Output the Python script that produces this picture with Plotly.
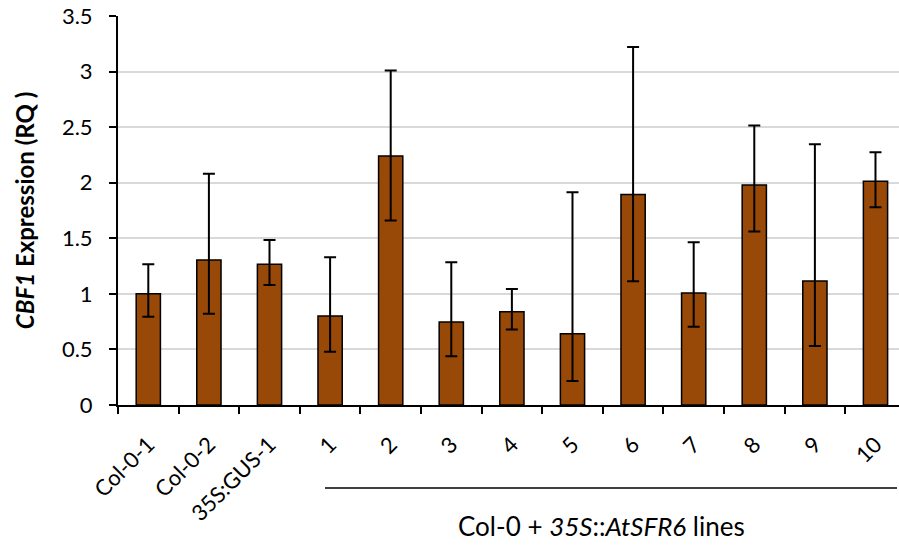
import plotly.graph_objects as go

# CBF1 relative expression per line, with asymmetric error bounds
lines = ["Col-0-1", "Col-0-2", "35S:GUS-1", "1", "2", "3", "4", "5",
         "6", "7", "8", "9", "10"]
rq = [1.00, 1.305, 1.266, 0.80, 2.24, 0.747, 0.84, 0.642,
      1.893, 1.008, 1.98, 1.116, 2.013]
err_high = [1.266, 2.08, 1.485, 1.33, 3.01, 1.284, 1.044, 1.914,
            3.22, 1.464, 2.514, 2.346, 2.274]
err_low = [0.795, 0.82, 1.08, 0.48, 1.66, 0.438, 0.68, 0.216,
           1.113, 0.705, 1.56, 0.531, 1.78]

plus = [h - v for h, v in zip(err_high, rq)]
minus = [v - l for l, v in zip(err_low, rq)]

FONT = "Lato"

fig = go.Figure(
    go.Bar(
        x=lines,
        y=rq,
        width=0.40,
        marker=dict(color="#984807", line=dict(color="black", width=1.5)),
        error_y=dict(
            type="data",
            symmetric=False,
            array=plus,
            arrayminus=minus,
            color="black",
            thickness=2,
            width=6,
        ),
    )
)

fig.update_layout(
    width=899,
    height=546,
    margin=dict(l=118, r=0, t=16, b=141),
    plot_bgcolor="white",
    paper_bgcolor="white",
    showlegend=False,
    font=dict(family=FONT, size=22, color="black"),
)

fig.update_xaxes(
    type="category",
    range=[-0.5, 12.388],
    tickangle=-45,
    tickson="boundaries",
    ticks="outside",
    ticklen=7,
    tickwidth=1.5,
    tickcolor="black",
    ticklabelstandoff=16,
    showline=True,
    linecolor="black",
    linewidth=2,
    showgrid=False,
    tickfont=dict(family=FONT, size=22),
)

fig.update_yaxes(
    range=[0, 3.5],
    tickvals=[0, 0.5, 1, 1.5, 2, 2.5, 3, 3.5],
    ticktext=["0", "0.5", "1", "1.5", "2", "2.5", "3", "3.5"],
    ticks="outside",
    ticklen=7,
    tickwidth=1.5,
    tickcolor="black",
    ticklabelstandoff=12,
    showline=True,
    linecolor="black",
    linewidth=2,
    showgrid=True,
    gridcolor="#d9d9d9",
    gridwidth=1.5,
    zeroline=False,
    tickfont=dict(family=FONT, size=22),
    title=dict(
        text="<b><i>CBF1</i> Expression (RQ )</b>",
        font=dict(family=FONT, size=24),
        standoff=20,
    ),
)

# Bracket line under the transgenic lines and its group label
fig.add_shape(
    type="line",
    xref="paper", yref="paper",
    x0=(325 - 118) / 781, x1=(897 - 118) / 781,
    y0=-(488 - 405) / 389, y1=-(488 - 405) / 389,
    line=dict(color="black", width=1.5),
)
fig.add_annotation(
    xref="paper", yref="paper",
    x=(601 - 118) / 781, y=-(526 - 405) / 389,
    text="Col-0 + <i>35S</i>::<i>AtSFR6</i> lines",
    showarrow=False,
    font=dict(family=FONT, size=26, color="black"),
    xanchor="center", yanchor="middle",
)

fig.write_html("out.html")
